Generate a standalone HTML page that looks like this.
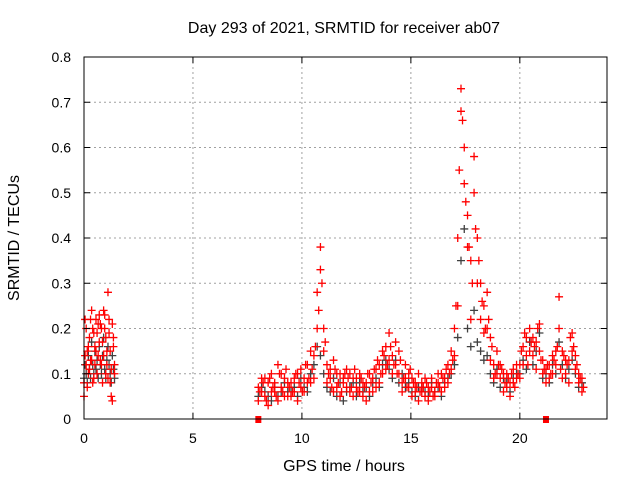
<!DOCTYPE html>
<html><head><meta charset="utf-8"><style>
body{margin:0;background:#fff;}
svg{display:block;font-family:"Liberation Sans",sans-serif;}
</style></head><body>
<svg id="chart" width="640" height="480">
<rect width="640" height="480" fill="#fff"/>
<g id="grid"></g>
<g id="dark"></g>
<g id="red"></g>
<rect x="84" y="57" width="523" height="362" fill="none" stroke="#000" stroke-width="1"/>
<g id="ticks"></g>
<text x="344" y="33" text-anchor="middle" font-size="16">Day 293 of 2021, SRMTID for receiver ab07</text>
<text x="344" y="471" text-anchor="middle" font-size="16">GPS time / hours</text>
<text x="19" y="238" text-anchor="middle" font-size="16" transform="rotate(-90 19 238)">SRMTID / TECUs</text>
</svg>
<script>
const xTicks=[0,5,10,15,20];
const yTicks=[0,0.1,0.2,0.3,0.4,0.5,0.6,0.7,0.8];
const yTickLabels=["0","0.1","0.2","0.3","0.4","0.5","0.6","0.7","0.8"];
const times1=[0,0.05,0.1,0.15,0.2,0.25,0.3,0.35,0.4,0.45,0.5,0.55,0.6,0.65,0.7,0.75,0.8,0.85,0.9,0.95,1.0,1.05,1.1,1.15,1.2,1.25,1.3,1.35,1.4];
const redA1=[.08,.22,.12,.15,.10,.18,.13,.24,.20,.09,.16,.22,.19,.14,.23,.21,.12,.17,.24,.20,.10,.15,.28,.19,.08,.05,.21,.16,.12];
const redB1=[.05,.14,.20,.07,.16,.11,.22,.13,.08,.19,.12,.15,.10,.21,.17,.13,.20,.08,.14,.23,.18,.12,.09,.22,.15,.11,.04,.18,.10];
const dark1=[.09,.12,.10,.08,.14,.11,.09,.17,.12,.10,.15,.11,.13,.09,.16,.12,.10,.14,.18,.11,.09,.13,.16,.12,.10,.08,.14,.11,.09];
const times2=[8.00,8.15,8.30,8.45,8.60,8.75,8.90,9.05,9.20,9.35,9.50,9.65,9.80,9.95,10.10,10.25,10.40,10.55,10.70,10.85,11.00,11.15,11.30,11.45,11.60,11.75,11.90,12.05,12.20,12.35,12.50,12.65,12.80,12.95,13.10,13.25,13.40,13.55,13.70,13.85,14.00,14.15,14.30,14.45,14.60,14.75,14.90,15.05,15.20,15.35,15.50,15.65,15.80,15.95,16.10,16.25,16.40,16.55,16.70,16.85,17.00,17.15,17.30,17.45,17.60,17.75,17.90,18.05,18.20,18.35,18.50,18.65,18.80,18.95,19.10,19.25,19.40,19.55,19.70,19.85,20.00,20.15,20.30,20.45,20.60,20.75,20.90,21.05,21.20,21.35,21.50,21.65,21.80,21.95,22.10,22.25,22.40,22.55,22.70,22.85];
const redA2=[.07,.09,.05,.08,.10,.06,.12,.07,.09,.05,.08,.06,.10,.07,.09,.12,.08,.14,.28,.38,.20,.12,.09,.13,.07,.10,.08,.11,.06,.09,.07,.10,.05,.08,.06,.09,.07,.12,.15,.11,.19,.14,.17,.10,.08,.12,.07,.09,.06,.10,.08,.05,.07,.09,.06,.08,.10,.07,.12,.15,.20,.40,.73,.60,.45,.35,.58,.40,.30,.25,.28,.18,.12,.15,.09,.10,.07,.08,.11,.09,.12,.16,.18,.20,.14,.17,.21,.13,.11,.09,.14,.12,.27,.15,.10,.13,.19,.11,.08,.09];
const redB2=[.04,.06,.09,.03,.06,.08,.04,.10,.05,.08,.05,.09,.04,.11,.06,.08,.15,.09,.20,.33,.15,.08,.11,.06,.10,.05,.09,.07,.10,.05,.09,.06,.08,.04,.10,.06,.11,.08,.10,.16,.13,.10,.12,.15,.06,.09,.10,.05,.08,.04,.06,.09,.04,.07,.05,.10,.06,.09,.08,.11,.14,.25,.68,.52,.38,.22,.50,.30,.22,.19,.20,.13,.09,.10,.12,.06,.10,.05,.08,.12,.09,.12,.14,.15,.18,.11,.15,.10,.08,.12,.10,.15,.20,.09,.13,.08,.15,.14,.10,.06];
const dark2=[.05,.07,.06,.05,.04,.07,.05,.06,.08,.06,.06,.07,.05,.09,.07,.06,.10,.12,.16,.14,.10,.07,.06,.09,.05,.08,.04,.06,.07,.08,.05,.08,.06,.07,.05,.08,.09,.07,.12,.13,.11,.09,.13,.08,.10,.07,.08,.06,.05,.07,.07,.06,.05,.08,.06,.07,.05,.08,.09,.10,.12,.18,.35,.42,.20,.16,.24,.17,.15,.13,.14,.10,.08,.11,.07,.09,.08,.06,.09,.10,.10,.13,.11,.17,.12,.15,.19,.09,.10,.08,.12,.10,.17,.12,.09,.11,.13,.10,.07,.08];
const times3=[8.07,8.22,8.37,8.52,8.67,8.82,8.97,9.12,9.27,9.42,9.57,9.72,9.87,10.02,10.17,10.32,10.47,10.62,10.77,10.92,11.07,11.22,11.37,11.52,11.67,11.82,11.97,12.12,12.27,12.42,12.57,12.72,12.87,13.02,13.17,13.32,13.47,13.62,13.77,13.92,14.07,14.22,14.37,14.52,14.67,14.82,14.97,15.12,15.27,15.42,15.57,15.72,15.87,16.02,16.17,16.32,16.47,16.62,16.77,16.92,17.07,17.22,17.37,17.52,17.67,17.82,17.97,18.12,18.27,18.42,18.57,18.72,18.87,19.02,19.17,19.32,19.47,19.62,19.77,19.92,20.07,20.22,20.37,20.52,20.67,20.82,20.97,21.12,21.27,21.42,21.57,21.72,21.87,22.02,22.17,22.32,22.47,22.62,22.77,22.92];
const redC2=[.06,.08,.04,.09,.07,.05,.10,.06,.11,.07,.06,.10,.08,.06,.12,.09,.11,.16,.24,.30,.17,.10,.07,.11,.08,.06,.10,.09,.07,.11,.06,.09,.07,.10,.08,.11,.13,.10,.14,.12,.16,.12,.10,.13,.09,.07,.11,.08,.07,.06,.07,.08,.06,.05,.08,.07,.09,.11,.10,.13,.25,.55,.66,.48,.38,.30,.42,.35,.26,.20,.22,.16,.10,.12,.11,.08,.09,.10,.07,.10,.15,.19,.12,.17,.16,.20,.13,.11,.12,.10,.13,.16,.11,.14,.12,.18,.16,.12,.09,.07];
const zeroTimes=[8.0,21.2];

const L=84,R=607,T=57,B=419,XMAX=24,YMAX=0.8;
const xs=v=>L+(R-L)*v/XMAX, ys=v=>B-(B-T)*v/YMAX;
const NS="http://www.w3.org/2000/svg";
const grid=document.getElementById('grid'),ticks=document.getElementById('ticks');
function mk(tag,parent,attrs){const e=document.createElementNS(NS,tag);for(const k in attrs)e.setAttribute(k,attrs[k]);parent.appendChild(e);return e;}
xTicks.forEach(v=>{const x=xs(v);
 if(v>0){const g=mk('line',grid,{x1:x,y1:T,x2:x,y2:B,stroke:'#a0a0a0','stroke-dasharray':'2,3'});
 
 }
 mk('line',ticks,{x1:x,y1:B,x2:x,y2:B-6,stroke:'#000'});
 mk('line',ticks,{x1:x,y1:T,x2:x,y2:T+6,stroke:'#000'});
 const t=mk('text',ticks,{x:x,y:B+24,'text-anchor':'middle','font-size':'14'});t.textContent=v;
 
 });
yTicks.forEach((v,i)=>{const y=ys(v);
 if(v>0&&v<YMAX){const g=mk('line',grid,{x1:L,y1:y,x2:R,y2:y,stroke:'#a0a0a0','stroke-dasharray':'2,3'});
 
 }
 mk('line',ticks,{x1:L,y1:y,x2:L+6,y2:y,stroke:'#000'});
 mk('line',ticks,{x1:R,y1:y,x2:R-6,y2:y,stroke:'#000'});
 const t=mk('text',ticks,{x:L-13,y:y+5,'text-anchor':'end','font-size':'14'});t.textContent=yTickLabels[i];
 
 });
function plus(g,tArr,yArr,color){let d='';tArr.forEach((t,i)=>{const x=xs(t),y=ys(yArr[i]);d+=`M${x-4},${y}h8M${x},${y-4}v8`;});
 const p=mk('path',g,{d:d,stroke:color,'stroke-width':'1.3',fill:'none'});
 
 }
const dg=document.getElementById('dark'),rg=document.getElementById('red');
plus(dg,times1,dark1,'#404040');plus(dg,times2,dark2,'#404040');
plus(rg,times1,redA1,'#ff0000');plus(rg,times1,redB1,'#ff0000');
plus(rg,times2,redA2,'#ff0000');plus(rg,times2,redB2,'#ff0000');
plus(rg,times3,redC2,'#ff0000');
zeroTimes.forEach(t=>{const r=mk('rect',rg,{x:xs(t)-3,y:B-3,width:6,height:7,fill:'#ff0000'});
 
 });
</script>
</body></html>
